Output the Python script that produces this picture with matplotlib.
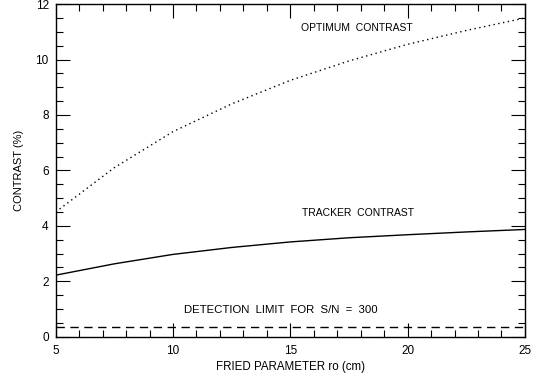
import matplotlib
matplotlib.use("Agg")
import matplotlib.pyplot as plt
from matplotlib.ticker import MultipleLocator

# Fried parameter r0 (cm)
r0 = [5, 7.5, 10, 12.5, 15, 17.5, 20, 22.5, 25]
# Contrast (%) curves
optimum_contrast = [4.5, 6.1, 7.4, 8.4, 9.25, 9.95, 10.55, 11.05, 11.5]
tracker_contrast = [2.22, 2.63, 2.97, 3.22, 3.42, 3.57, 3.68, 3.78, 3.87]
detection_limit = 0.35

plt.rcParams['font.family'] = ['Liberation Sans', 'DejaVu Sans']
fig = plt.figure(figsize=(5.34, 3.76), dpi=100)
ax = fig.add_axes([0.1043, 0.1045, 0.8787, 0.8845])

ax.plot(r0, optimum_contrast, color='black', lw=1.0, linestyle=(0, (1, 2.5)))
ax.plot(r0, tracker_contrast, color='black', lw=1.0)
ax.plot([r0[0], r0[-1]], [detection_limit, detection_limit], color='black',
        lw=1.0, linestyle=(0, (6, 4)))

ax.set_xlim(5, 25)
ax.set_ylim(0, 12)
ax.xaxis.set_major_locator(MultipleLocator(5))
ax.xaxis.set_minor_locator(MultipleLocator(1))
ax.yaxis.set_major_locator(MultipleLocator(2))
ax.yaxis.set_minor_locator(MultipleLocator(0.5))
ax.tick_params(which='both', direction='in', top=True, right=True,
               labelsize=8.5, width=0.8)
ax.tick_params(which='major', length=10, pad=6)
ax.tick_params(which='minor', length=5)
ax.tick_params(axis='y', which='major', pad=5)
for s in ax.spines.values():
    s.set_linewidth(1.0)

ax.set_xlabel('FRIED PARAMETER ro (cm)', fontsize=8.3, labelpad=3)
ax.set_ylabel('CONTRAST (%)', fontsize=8, labelpad=8)

ax.text(17.85, 11.15, 'OPTIMUM  CONTRAST', fontsize=7.5, ha='center', va='center')
ax.text(17.9, 4.46, 'TRACKER  CONTRAST', fontsize=7.5, ha='center', va='center')
ax.text(14.6, 0.96, 'DETECTION  LIMIT  FOR  S/N  =  300', fontsize=8.2,
        ha='center', va='center')

fig.savefig('out.png', dpi=100)
